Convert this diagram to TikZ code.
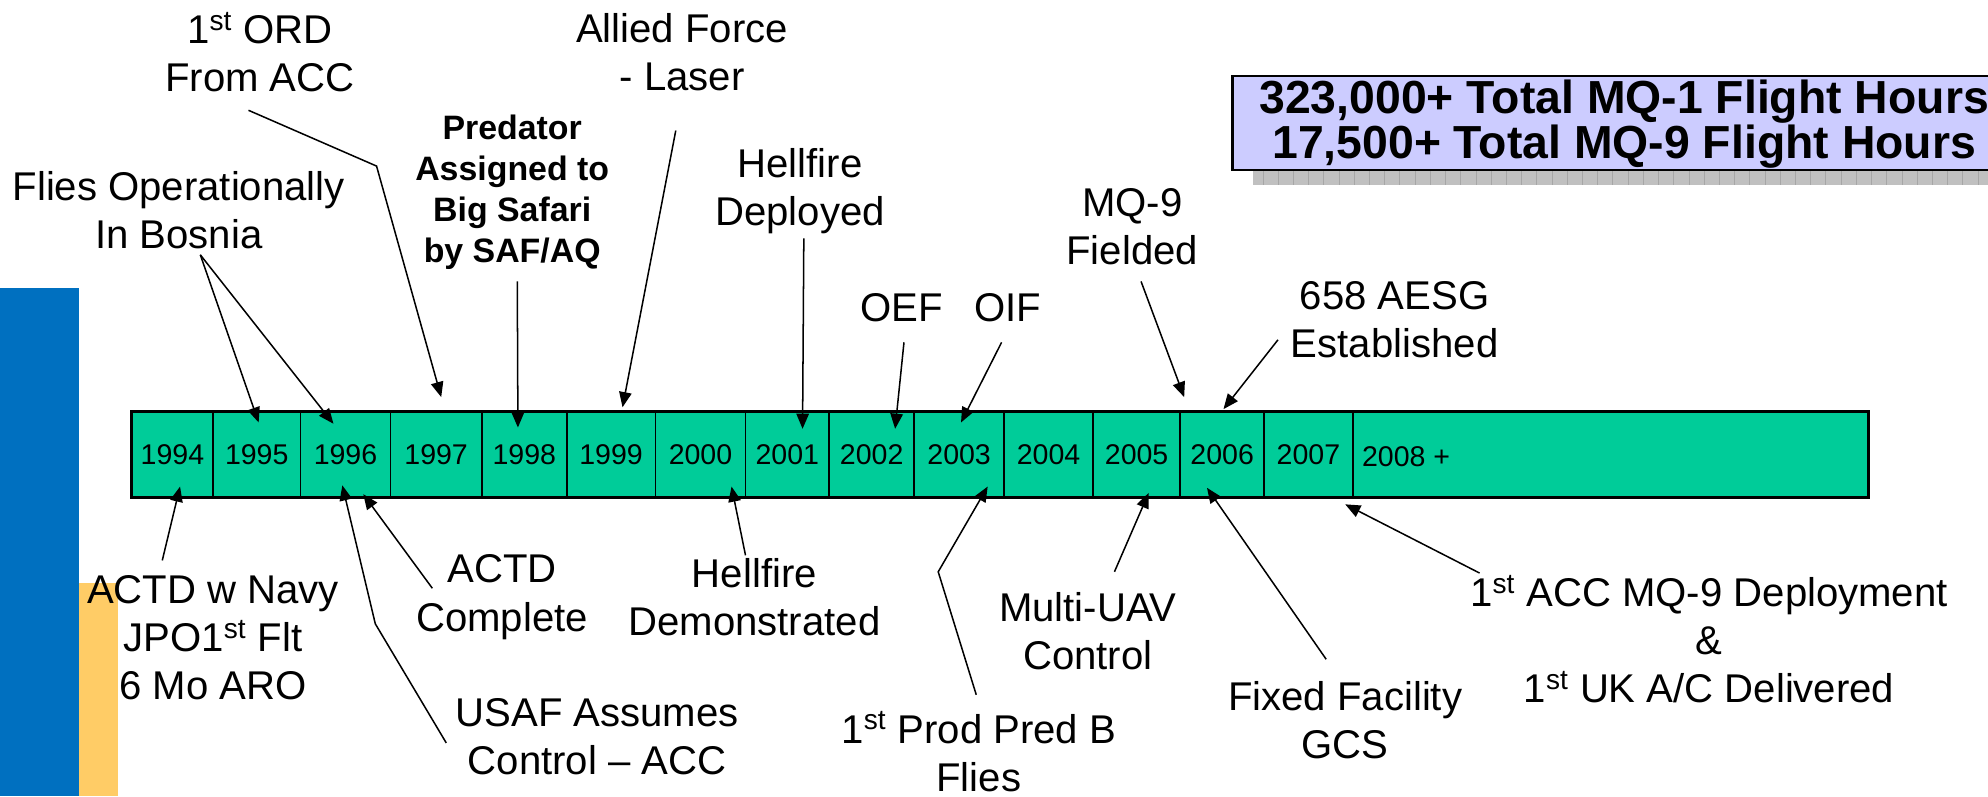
\documentclass[tikz,border=0pt]{standalone}
\usepackage{fontspec}
\setmainfont{Liberation Sans}
\usetikzlibrary{arrows.meta, calc}

\definecolor{barblue}{RGB}{0,112,192}
\definecolor{barorange}{RGB}{255,204,102}
\definecolor{cellgreen}{RGB}{0,204,153}
\definecolor{boxlilac}{RGB}{204,204,255}
\definecolor{shadowgray}{RGB}{192,192,192}

\begin{document}
\begin{tikzpicture}[
  x=0.025cm, y=-0.025cm,
  label/.style={align=center, inner sep=0pt, font=\fontsize{22.5}{27}\selectfont},
  boldlabel/.style={align=center, inner sep=0pt, font=\fontsize{19}{23}\selectfont\bfseries},
  yearcell/.style={draw, line width=1.1pt, fill=cellgreen, minimum height=1.675cm, inner sep=0pt, font=\fontsize{16}{19}\selectfont},
  pointer/.style={draw, line width=0.85pt, -{Triangle[length=8.5pt, width=7pt]}},
  statbox/.style={draw, line width=1.3pt, fill=boxlilac},
]
\useasboundingbox (0,0) rectangle (1568,628);
\clip (0,0) rectangle (1568,628);

% side bars
\fill[barblue] (0,227) rectangle (62,628);
\fill[barorange] (62,460) rectangle (93,628);

% flight hours box
\fill[shadowgray] (988,75) rectangle (1620,146);
\foreach \gx in {996,1008,...,1568}
  \draw[gray!70, line width=0.3pt] (\gx,134) -- (\gx,146);
\draw[statbox] (972,60) rectangle (1620,134);
\node[align=center, inner sep=0pt, font=\fontsize{26}{23.5}\selectfont\bfseries] (hours) at (1281,98)
  {323,000+ Total MQ-1 Flight Hours\\17,500+ Total MQ-9 Flight Hours};

% timeline
\foreach \yr/\xl/\xr in {1994/104/168, 1995/168/237, 1996/237/308, 1997/308/380,
    1998/380/447, 1999/447/517, 2000/517/588, 2001/588/654, 2002/654/721,
    2003/721/792, 2004/792/862, 2005/862/931, 2006/931/997, 2007/997/1067}
  \node[yearcell, minimum width={(\xr-\xl)*0.025cm}] (y\yr) at ({(\xl+\xr)/2},358.5) {\yr};
\node[yearcell, minimum width=10.15cm] (y2008) at (1270,358.5) {};
\node[anchor=west, inner sep=0pt, font=\fontsize{16}{19}\selectfont] (y2008txt) at (1074,360) {2008 +};
\draw[line width=1.5pt] (y1994.north west) rectangle (y2008.south east);

% labels above
\node[label] (ord) at (205,41) {1\textsuperscript{st} ORD\\From ACC};
\node[label] (allied) at (538,41) {Allied Force\\- Laser};
\node[boldlabel] (predator) at (404,152) {Predator\\Assigned to\\Big Safari\\by SAF/AQ};
\node[label] (bosnia) at (141,166) {Flies Operationally\\In Bosnia};
\node[label] (hfdep) at (631,151) {Hellfire\\Deployed};
\node[label] (mq9) at (893,179) {MQ-9\\Fielded};
\node[label] (oef) at (711,243) {OEF};
\node[label] (oif) at (795,243) {OIF};
\node[label] (aesg) at (1100,252) {658 AESG\\Established};

% labels below
\node[label] (navy) at (168,503) {ACTD w Navy\\JPO1\textsuperscript{st} Flt\\6 Mo ARO};
\node[label] (actd) at (396,471) {ACTD\\Complete};
\node[label] (usaf) at (471,581) {USAF Assumes\\Control – ACC};
\node[label] (hfdemo) at (595,471) {Hellfire\\Demonstrated};
\node[label] (prod) at (772,593) {1\textsuperscript{st} Prod Pred B\\Flies};
\node[label] (multi) at (858,498) {Multi-UAV\\Control};
\node[label] (fixed) at (1061,568) {Fixed Facility\\GCS};
\node[label] (acc) at (1348,504) {1\textsuperscript{st} ACC MQ-9 Deployment\\\&\\1\textsuperscript{st} UK A/C Delivered};

% arrow tails
\coordinate (bosniaTail) at (158,201);
\coordinate (ordTail) at (196,87);
\coordinate (ordBend) at (297,131);
\coordinate (predatorTail) at (408,222);
\coordinate (alliedTail) at (533,103);
\coordinate (hfdepTail) at (634,188);
\coordinate (oefTail) at (713,270);
\coordinate (oifTail) at (790,270);
\coordinate (mqTail) at (900,222);
\coordinate (aesgTail) at (1008,268);
\coordinate (navyTail) at (128,442);
\coordinate (usafTail) at (352,586);
\coordinate (usafBend) at (296,492);
\coordinate (actdTail) at (341,464);
\coordinate (hfdemoTail) at (588,438);
\coordinate (prodTail) at (770,548);
\coordinate (prodBend) at (740,451);
\coordinate (multiTail) at (879,451);
\coordinate (fixedTail) at (1046,520);
\coordinate (accTail) at (1167,452);

% arrows into the bar
\draw[pointer] (bosniaTail) -- ($(y1995.north)+(1.5,9)$);
\draw[pointer] (bosniaTail) -- ($(y1996.north)+(-9.5,10)$);
\draw[pointer] (ordTail) -- (ordBend) -- ($(y1997.north)+(4,-11)$);
\draw[pointer] (predatorTail) -- ($(y1998.north)+(-5,13)$);
\draw[pointer] (alliedTail) -- ($(y1999.north)+(9,-3)$);
\draw[pointer] (hfdepTail) -- ($(y2001.north)+(12,14)$);
\draw[pointer] (oefTail) -- ($(y2002.north)+(18.5,14)$);
\draw[pointer] (oifTail) -- ($(y2003.north)+(1.5,9)$);
\draw[pointer] (mqTail) -- ($(y2006.north)+(-30,-11)$);
\draw[pointer] (aesgTail) -- ($(y2006.north)+(1,-1.5)$);

\draw[pointer] (navyTail) -- ($(y1994.south)+(6,-9)$);
\draw[pointer] (usafTail) -- (usafBend) -- ($(y1996.south)+(-2.5,-10)$);
\draw[pointer] (actdTail) -- ($(y1996.south)+(14,-3)$);
\draw[pointer] (hfdemoTail) -- ($(y2000.south)+(24.5,-9)$);
\draw[pointer] (prodTail) -- (prodBend) -- ($(y2003.south)+(22.5,-9)$);
\draw[pointer] (multiTail) -- ($(y2005.south)+(9.5,-4)$);
\draw[pointer] (fixedTail) -- ($(y2006.south)+(-12,-8)$);
\draw[pointer] (accTail) -- ($(y2007.south)+(29,5)$);
\end{tikzpicture}
\end{document}
